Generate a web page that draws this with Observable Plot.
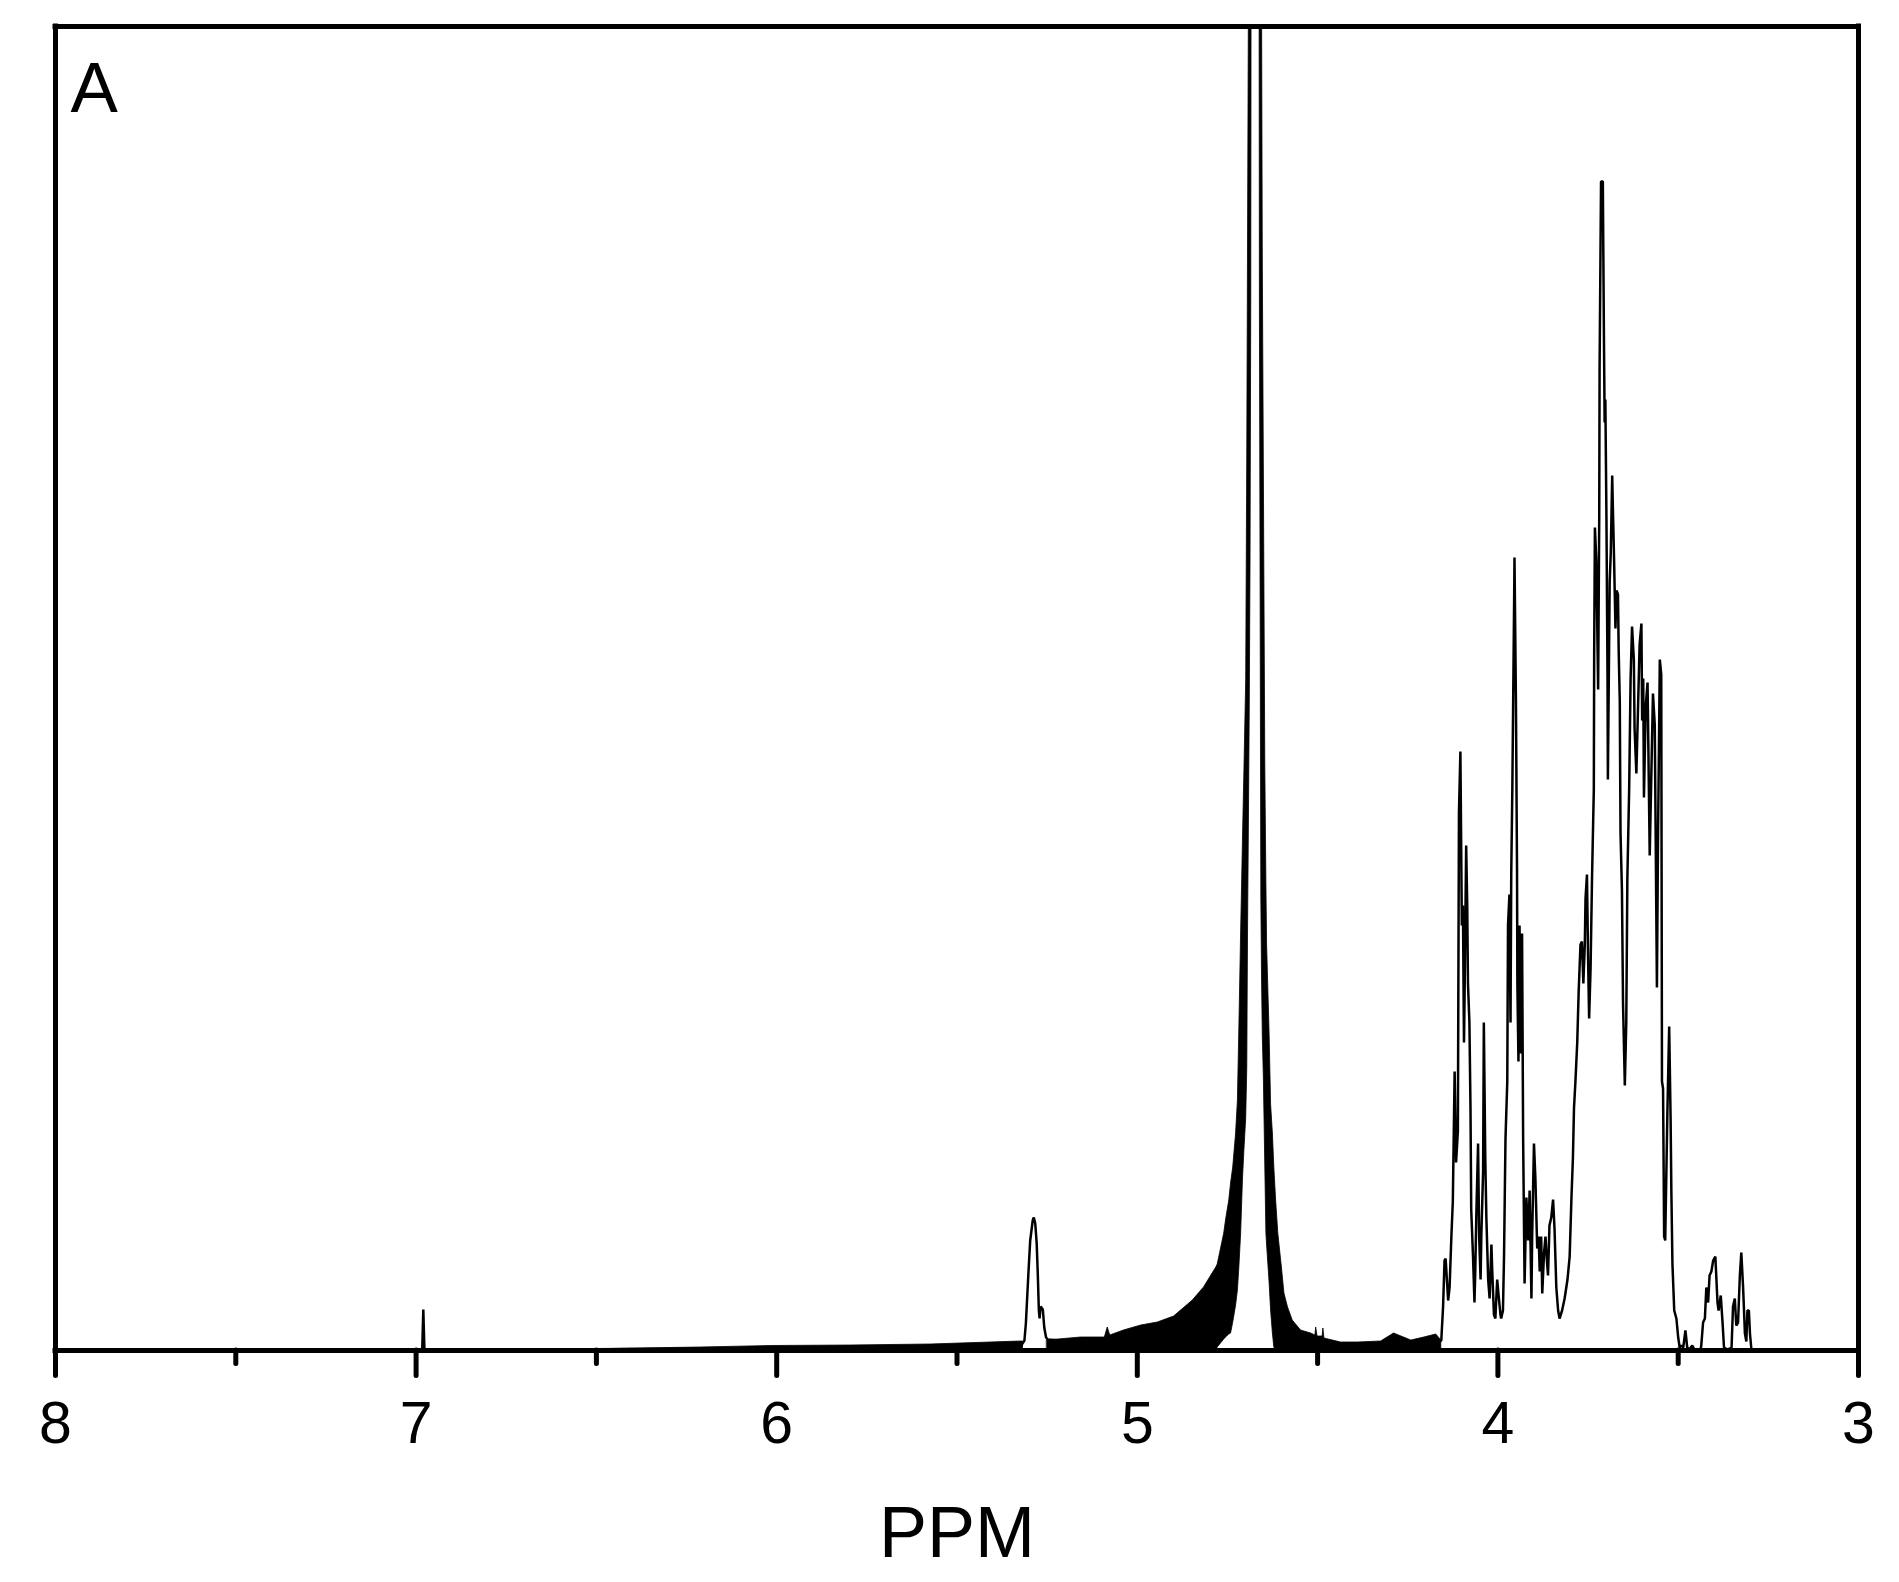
<!DOCTYPE html>
<html>
<head>
<meta charset="utf-8">
<script src="https://cdn.jsdelivr.net/npm/d3@7"></script>
<script src="https://cdn.jsdelivr.net/npm/@observablehq/plot@0.6"></script>
<style>
  html, body { margin: 0; padding: 0; background: #ffffff; overflow: hidden; }
  svg { display: block; }
</style>
</head>
<body>
<div id="chart"></div>
<script>
// ---- Data (chemical shift in ppm, relative intensity) ----
const ppmDomain = [8, 3];
const intensityMin = -3;
const intensityTop = 132.4;

const majorTicks = [8, 7, 6, 5, 4, 3];
const minorTicks = [7.5, 6.5, 5.5, 4.5, 3.5];
const tickLabels = ["8", "7", "6", "5", "4", "3"];
const panelLabel = "A";
const xLabel = "PPM";

// main spectrum trace (null = gap)
const spectrumPpm = [
  8.000, 7.600, 7.200, 6.983, 6.980, 6.977, 6.600, 6.200, 5.800, 5.500,
  5.322, 5.313, 5.309, 5.302, 5.297, 5.290, 5.287, 5.283, 5.279, 5.276,
  5.273, 5.271, 5.268, 5.262, 5.258, 5.253, 5.248, 5.150, 5.000, 4.900,
  4.800, 4.790, 4.605, 4.500, 4.300, 4.171,
  4.157, 4.152, 4.148, 4.145, 4.138, 4.134, 4.129, 4.125, 4.122, 4.120,
  4.116, 4.111, 4.108, 4.104, 4.100, 4.097, 4.095, 4.094, 4.092, 4.088,
  4.085, 4.083, 4.079, 4.076, 4.074, 4.069, 4.065, 4.063, 4.060, 4.055,
  4.052, 4.048, 4.046, 4.041, 4.039, 4.035, 4.032, 4.027, 4.023, 4.018,
  4.016, 4.011, 4.007, 4.002, 3.998, 3.993, 3.991, 3.986, 3.983, 3.979,
  3.974, 3.972, 3.968, 3.965, 3.963, 3.960, 3.955, 3.954, 3.950, 3.947,
  3.946, 3.943, 3.940, 3.937, 3.933, 3.930, 3.926, 3.921, 3.916, 3.912,
  3.907, 3.905, 3.900, 3.896, 3.891, 3.887, 3.884, 3.880, 3.877, 3.872,
  3.868, 3.865, 3.861, 3.857, 3.852, 3.847, 3.843, 3.838, 3.833, 3.829,
  3.822, 3.815, 3.807, 3.801, 3.796, 3.792, 3.789, 3.785, 3.780, 3.776,
  3.771, 3.767, 3.763, 3.759, 3.757, 3.753, 3.750, 3.747, 3.743, 3.739,
  3.734, 3.733, 3.731, 3.727, 3.722, 3.719, 3.718, 3.714, 3.709, 3.706,
  3.704, 3.702, 3.699, 3.696, 3.695, 3.690, 3.687, 3.683, 3.681, 3.678,
  3.674, 3.671, 3.667, 3.665, 3.662, 3.660, 3.656, 3.653, 3.648, 3.644,
  3.641, 3.636, 3.632, 3.628, 3.623, 3.621, 3.616, 3.607, 3.602, 3.600,
  3.597, 3.595, 3.590, 3.585, 3.579, 3.570, 3.565, 3.559, 3.556, 3.551,
  3.547, 3.545, 3.542, 3.539, 3.536, 3.530, 3.525, 3.521, 3.519, 3.516,
  3.511, 3.505, 3.500, 3.496, 3.491, 3.486, 3.480, 3.475, 3.469, 3.461,
  3.455, 3.438, 3.436, 3.431, 3.426, 3.422, 3.417, 3.413, 3.408, 3.403,
  3.397, 3.391, 3.388, 3.382, 3.377, 3.373, 3.363, 3.352, 3.348, 3.343,
  3.339, 3.334, 3.329, 3.325, 3.320, 3.315, 3.311, 3.308, 3.304, 3.301,
  3.297
];
const spectrumIntensity = [
  0.1, 0.1, 0.1, 0.1, 4.1, 0.1, 0.1, 0.2, 0.3, 0.4,
  0.5, 1.0, 2.7, 7.7, 11.0, 13.0, 13.3, 12.7, 10.7, 7.7,
  4.0, 3.2, 4.4, 4.1, 2.3, 1.3, 1.1, 0.8, 1.0, 1.2,
  0.2, null, 0.2, 0.6, 0.5, 0.8,
  1.0, 4.4, 9.0, 9.2, 5.0, 6.3, 11.4, 14.9, 22.7, 27.9,
  18.8, 21.9, 53.8, 59.9, 42.5, 44.5, 35.0, 30.8, 36.7, 50.5,
  44.4, 36.7, 32.8, 24.2, 14.1, 9.4, 4.8, 7.5, 13.3, 20.7,
  11.4, 7.1, 11.4, 18.0, 32.8, 19.2, 13.3, 7.1, 5.2, 10.6,
  8.3, 3.6, 3.2, 7.1, 5.5, 3.6, 3.2, 4.0, 9.4, 21.1,
  26.9, 42.5, 45.6, 32.8, 47.6, 56.1, 75.0, 79.3, 65.0, 48.3,
  36.7, 28.9, 42.5, 29.7, 41.7, 21.1, 6.7, 15.3, 11.0, 16.0,
  5.2, 11.4, 20.7, 17.2, 10.2, 11.4, 7.9, 11.4, 5.7, 9.8,
  11.4, 9.4, 7.5, 12.5, 13.3, 15.1, 12.2, 6.3, 4.0, 3.2,
  4.0, 5.2, 7.1, 9.4, 15.3, 19.2, 24.2, 26.9, 30.8, 35.9,
  40.6, 40.9, 36.7, 40.6, 45.2, 47.6, 39.4, 33.2, 38.2, 47.2,
  56.1, 69.9, 82.3, 79.0, 66.1, 83.3, 98.2, 116.9, 116.9, 101.6,
  92.8, 95.1, 83.3, 67.2, 57.1, 76.8, 79.8, 87.5, 84.0, 79.4,
  72.2, 76.0, 75.6, 69.9, 64.9, 51.8, 46.0, 34.7, 26.5, 32.8,
  47.2, 56.1, 67.2, 72.4, 69.1, 62.2, 57.7, 70.6, 72.7, 63.0,
  67.2, 55.3, 64.5, 66.8, 49.5, 65.7, 62.6, 36.3, 51.1, 69.1,
  67.6, 26.9, 26.2, 11.4, 11.0, 23.8, 32.4, 23.0, 16.0, 8.7,
  4.0, 3.2, 1.3, 0.3, 0.5, 0.3, 2.0, 0.3, 0.1, 0.5,
  0.1, 0.1, 0.5, 2.8, 3.2, 6.3, 4.8, 7.5, 7.9, 9.0,
  9.4, 4.8, 4.0, 5.5, 2.8, 0.3, 0.1, 0.3, 4.4, 5.2,
  2.5, 2.8, 7.5, 9.8, 6.3, 1.7, 0.9, 4.0, 4.0, 1.7,
  0.1
];

// densely oscillating region (drawn solid in the reference): lower / upper envelopes
const noisePpm = [
  6.543, 6.210, 6.016, 5.794, 5.572, 5.406, 5.322, 5.317, 5.315, 5.250,
  5.156, 5.090, 5.082, 5.075, 5.037, 4.989, 4.943, 4.898, 4.846, 4.815,
  4.781, 4.777, 4.759, 4.754, 4.745, 4.740, 4.734, 4.726, 4.721, 4.717,
  4.712, 4.707, 4.703, 4.698, 4.695, 4.693, 4.690, 4.688, 4.686, 4.684,
  4.683, 4.672, 4.661, 4.660, 4.658, 4.656, 4.654, 4.652, 4.649, 4.645,
  4.642, 4.640, 4.633, 4.629, 4.624, 4.620, 4.615, 4.609, 4.599, 4.592,
  4.582, 4.569, 4.546, 4.518, 4.506, 4.504, 4.500, 4.486, 4.484, 4.481,
  4.435, 4.388, 4.324, 4.288, 4.240, 4.204, 4.171, 4.157
];
const noiseLower = [
  0, 0, 0, 0, 0, 0, 0, 0, null, 0,
  0, 0, 0, 0, 0, 0, 0, 0, 0, 0,
  0, 0.3, 1.1, 1.3, 1.6, 1.7, 2.8, 4.5, 6.0, 8.3,
  11.7, 17.1, 20.0, 23.2, 28.3, 41.5, 55.0, 65.0, 79.0, 105.0,
  140, null, 140, 105, 75, 45, 37, 31.5, 27.2, 18.3,
  11.7, 10.5, 6.7, 4.0, 1.7, 0.3, 0, 0, 0, 0,
  0, 0, 0, 0, 0, 0, 0, 0, 0, 0,
  0, 0, 0, 0, 0, 0, 0, 0
];
const noiseUpper = [
  0.1, 0.3, 0.45, 0.5, 0.6, 0.8, 0.9, 0.9, null, 1.0,
  1.3, 1.3, 2.3, 1.5, 2.0, 2.5, 2.8, 3.4, 5.0, 6.3,
  8.3, 8.6, 11.7, 13.0, 15.0, 16.7, 18.3, 21.7, 25.0, 32.2,
  41.9, 51.0, 57.9, 67.0, 90.0, 110.0, 140, 140, 140, 140,
  140, null, 140, 140, 140, 140, 135, 109.4, 87.8, 58.3,
  46.7, 40.5, 31.5, 24.6, 21.7, 18.3, 15.0, 11.7, 8.3, 5.7,
  4.3, 3.0, 2.0, 1.7, 1.5, 2.3, 1.4, 1.4, 2.2, 1.2,
  0.8, 0.8, 0.9, 1.7, 1.0, 1.3, 1.6, 1.0
];

// ---- build tables ----
const spectrum = spectrumPpm.map((p, i) => ({ppm: p, intensity: spectrumIntensity[i]}));
const noise = noisePpm.map((p, i) => ({ppm: p, lower: noiseLower[i], upper: noiseUpper[i]}));
const ticks = majorTicks.map((t, i) => ({ppm: t, label: tickLabels[i]}));

const FONT = "'Liberation Sans', Arial, Helvetica, sans-serif";
const INK = "#000000";

const chart = Plot.plot({
  width: 1899,
  height: 1582,
  marginLeft: 55,
  marginRight: 41,
  marginTop: 26,
  marginBottom: 202,
  x: {domain: ppmDomain, axis: null},
  y: {domain: [intensityMin, intensityTop], axis: null},
  style: {background: "#ffffff", fontFamily: FONT, color: INK},
  marks: [
    Plot.areaY(noise, {x: "ppm", y1: "lower", y2: "upper", fill: INK, stroke: INK, strokeWidth: 0.8, clip: true}),
    Plot.line(spectrum, {x: "ppm", y: "intensity", stroke: INK, strokeWidth: 2.5, strokeLinejoin: "miter", clip: true}),
    // frame
    Plot.ruleX(ppmDomain, {y1: 0, y2: intensityTop, stroke: INK, strokeWidth: 5, strokeLinecap: "square"}),
    Plot.ruleY([intensityTop], {x1: ppmDomain[0], x2: ppmDomain[1], stroke: INK, strokeWidth: 5, strokeLinecap: "square"}),
    Plot.ruleY([0], {x1: ppmDomain[0], x2: ppmDomain[1], stroke: INK, strokeWidth: 5, strokeLinecap: "square"}),
    // ticks
    Plot.ruleX(majorTicks, {x: d => d, y1: 0, y2: 0, insetBottom: -25.5, stroke: INK, strokeWidth: 5, strokeLinecap: "round"}),
    Plot.ruleX(minorTicks, {x: d => d, y1: 0, y2: 0, insetBottom: -13.5, stroke: INK, strokeWidth: 5, strokeLinecap: "round"}),
    // tick labels
    Plot.text(ticks, {x: "ppm", y: 0, text: "label", dy: 92, lineAnchor: "bottom", fontSize: 59, fontFamily: FONT, fill: INK}),
    // axis title
    Plot.text([xLabel], {frameAnchor: "bottom", text: d => d, dy: 176, lineAnchor: "bottom", fontSize: 72, fontFamily: FONT, fill: INK}),
    // panel label
    Plot.text([panelLabel], {frameAnchor: "top-left", text: d => d, dx: 15, dy: 85, lineAnchor: "bottom", fontSize: 71, fontFamily: FONT, fill: INK})
  ]
});

document.getElementById("chart").appendChild(chart);
</script>
</body>
</html>
